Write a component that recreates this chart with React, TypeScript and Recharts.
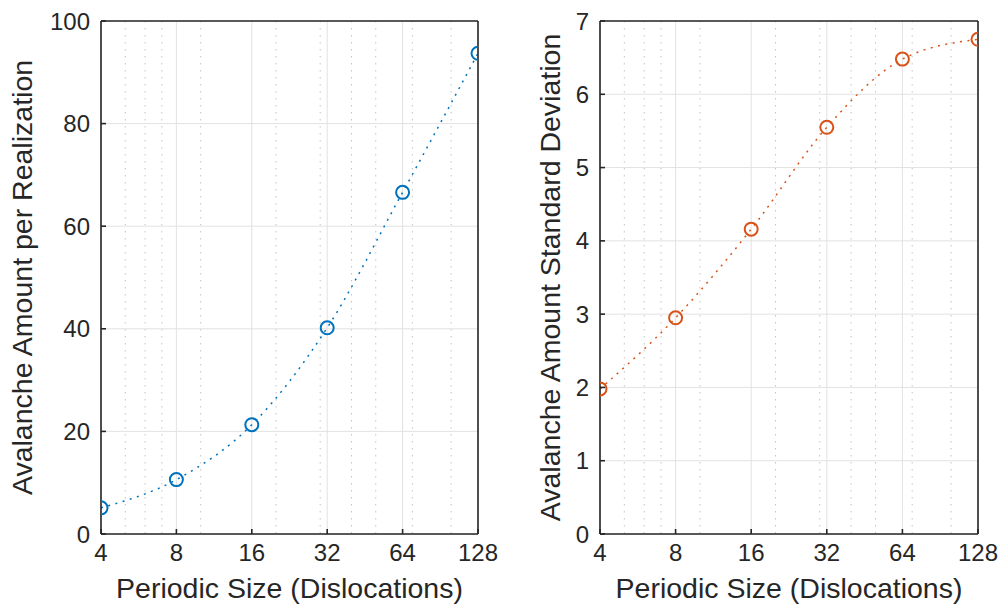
import { LineChart, Line, XAxis, YAxis, CartesianGrid, Label } from 'recharts';

const sizes = [4, 8, 16, 32, 64, 128];
const meanAmount = [5.1, 10.6, 21.3, 40.2, 66.6, 93.7];
const stdAmount = [1.98, 2.95, 4.16, 5.55, 6.48, 6.75];

const sizeTicks = [4, 8, 16, 32, 64, 128];
const minorTicks = [5, 6, 7, 9, 10, 20, 30, 40, 50, 60, 70, 80, 90, 100];
const meanTicks = [0, 20, 40, 60, 80, 100];
const stdTicks = [0, 1, 2, 3, 4, 5, 6, 7];

const INK = '#262626';
const FONT = '"Liberation Sans", Arial, Helvetica, sans-serif';

interface PanelProps {
  left: number;
  width: number;
  margin: { top: number; left: number; right: number; bottom: number };
  values: number[];
  color: string;
  yTicks: number[];
  yLabel: string;
  yLabelOffset: number;
}

function Panel({ left, width, margin, values, color, yTicks, yLabel, yLabelOffset }: PanelProps) {
  const data = sizes.map((s, i) => ({ size: s, value: values[i] }));
  const yDomain = [yTicks[0], yTicks[yTicks.length - 1]];
  const axisStroke = { stroke: INK, strokeWidth: 1.6 };
  const tickFont = { fill: INK, fontSize: 24, fontFamily: FONT };

  return (
    <div style={{ position: 'absolute', left, top: 0 }}>
      <LineChart width={width} height={608} data={data} margin={margin}>
        {/* minor log grid (dotted) then major grid */}
        <CartesianGrid
          horizontal={false}
          verticalValues={minorTicks}
          stroke="#c4c4c4"
          strokeDasharray="1.5 5.5"
        />
        <CartesianGrid stroke="#e2e2e2" strokeWidth={1} />
        <XAxis
          dataKey="size"
          type="number"
          scale="log"
          domain={[4, 128]}
          ticks={sizeTicks}
          height={1}
          tickSize={-5}
          tickMargin={15}
          axisLine={axisStroke}
          tickLine={axisStroke}
          tick={tickFont}
          allowDataOverflow
        >
          <Label
            content={(props: any) => {
              const vb = props.viewBox;
              return (
                <text
                  x={vb.x + vb.width / 2}
                  y={vb.y + 64}
                  textAnchor="middle"
                  fill={INK}
                  fontSize={28.5}
                  fontFamily={FONT}
                >
                  Periodic Size (Dislocations)
                </text>
              );
            }}
          />
        </XAxis>
        <XAxis
          xAxisId="bottomMinor"
          dataKey="size"
          type="number"
          scale="log"
          domain={[4, 128]}
          ticks={minorTicks}
          height={1}
          tickSize={-3}
          axisLine={false}
          tickLine={axisStroke}
          tick={false}
          allowDataOverflow
        />
        <XAxis
          xAxisId="top"
          orientation="top"
          dataKey="size"
          type="number"
          scale="log"
          domain={[4, 128]}
          ticks={sizeTicks}
          height={1}
          tickSize={-5}
          axisLine={axisStroke}
          tickLine={axisStroke}
          tick={false}
          allowDataOverflow
        />
        <XAxis
          xAxisId="topMinor"
          orientation="top"
          dataKey="size"
          type="number"
          scale="log"
          domain={[4, 128]}
          ticks={minorTicks}
          height={1}
          tickSize={-3}
          axisLine={false}
          tickLine={axisStroke}
          tick={false}
          allowDataOverflow
        />
        <YAxis
          type="number"
          domain={yDomain}
          ticks={yTicks}
          width={1}
          tickSize={-5}
          tickMargin={16}
          axisLine={axisStroke}
          tickLine={axisStroke}
          tick={tickFont}
          allowDataOverflow
        >
          <Label
            content={(props: any) => {
              const vb = props.viewBox;
              const cx = vb.x + vb.width - yLabelOffset;
              const cy = vb.y + vb.height / 2;
              return (
                <text
                  x={cx}
                  y={cy}
                  transform={`rotate(-90 ${cx} ${cy})`}
                  textAnchor="middle"
                  fill={INK}
                  fontSize={28.5}
                  fontFamily={FONT}
                >
                  {yLabel}
                </text>
              );
            }}
          />
        </YAxis>
        <YAxis
          yAxisId="right"
          orientation="right"
          type="number"
          domain={yDomain}
          ticks={yTicks}
          width={1}
          tickSize={-5}
          axisLine={axisStroke}
          tickLine={axisStroke}
          tick={false}
          allowDataOverflow
        />
        <Line
          dataKey="value"
          type="monotone"
          stroke={color}
          strokeWidth={1.5}
          strokeDasharray="2 5.5"
          dot={{ r: 6.5, stroke: color, strokeWidth: 2, fill: 'none', strokeDasharray: '' }}
          activeDot={false}
          isAnimationActive={false}
        />
      </LineChart>
    </div>
  );
}

export default function App() {
  return (
    <div style={{ position: 'absolute', left: 0, top: 0, width: 1004, height: 608, background: '#fff' }}>
      <Panel
        left={0}
        width={500}
        margin={{ top: 19, left: 100, right: 21, bottom: 72 }}
        values={meanAmount}
        color="#0072BD"
        yTicks={meanTicks}
        yLabel="Avalanche Amount per Realization"
        yLabelOffset={69}
      />
      <Panel
        left={500}
        width={504}
        margin={{ top: 19, left: 99, right: 25, bottom: 72 }}
        values={stdAmount}
        color="#D95319"
        yTicks={stdTicks}
        yLabel="Avalanche Amount Standard Deviation"
        yLabelOffset={40}
      />
    </div>
  );
}
